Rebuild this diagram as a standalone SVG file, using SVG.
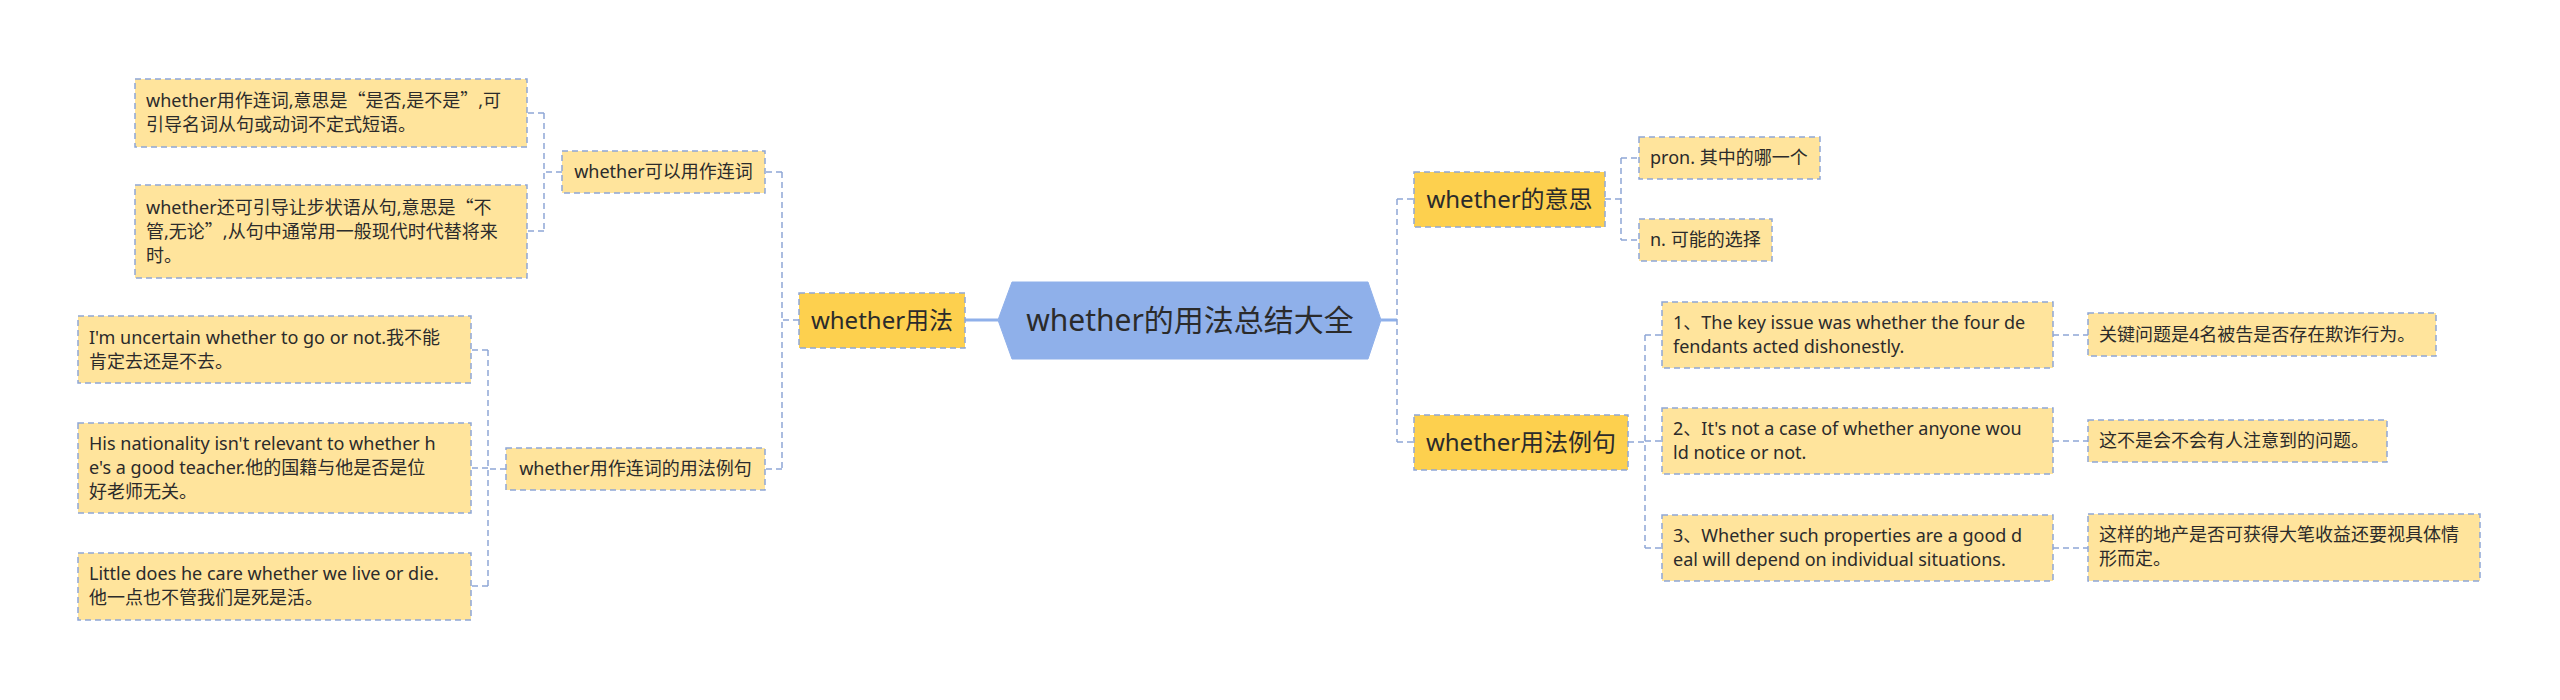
<svg xmlns="http://www.w3.org/2000/svg" width="2560" height="700" viewBox="0 0 2560 700">
<style>
.leaf{fill:#FFE49C;stroke:#8EA6D6;stroke-width:1.5;stroke-dasharray:6 4}
.l1{fill:#FDD04E;stroke:#8EA6D6;stroke-width:1.5;stroke-dasharray:6 4}
.root{fill:#8FB0EA;stroke:#8FB0EA;stroke-width:1}
text{font-family:"Noto Sans","Noto Sans CJK SC",sans-serif;fill:#2b2b2b}
.cjk{font-family:"Noto Sans CJK SC",sans-serif}
.t18{font-size:18px}
.t24{font-size:24px}
.t30{font-size:30px}
.conn path{fill:none;stroke:#8EA6D6;stroke-width:1.5;stroke-dasharray:6 4}
.conn .solid{stroke:#8FB0EA;stroke-width:3;stroke-dasharray:none}
</style>
<rect width="2560" height="700" fill="#ffffff"/>
<g class="conn" id="connectors">
<path class="solid" d="M998 320 H965"/>
<path class="solid" d="M1381 320 H1397"/>
<path d="M799 320 H782 M782 172 V469 M782 172 H765 M782 469 H765"/>
<path d="M562 172 H544 M544 113 V231 M544 113 H527 M544 231 H527"/>
<path d="M506 469 H488 M488 350 V586 M488 350 H471 M488 468 H471 M488 586 H471"/>
<path d="M1397 199 V442 M1397 199 H1414 M1397 442 H1414"/>
<path d="M1605 199 H1621 M1621 158 V240 M1621 158 H1639 M1621 240 H1639"/>
<path d="M1628 442 H1645 M1645 335 V548 M1645 335 H1662 M1645 441 H1662 M1645 548 H1662"/>
<path d="M2053 335 H2088 M2053 441 H2088 M2053 548 H2088"/>
</g>
<g id="root">
<polygon class="root" points="998,320 1012,282 1368,282 1381,320 1368,359 1012,359"/>
<text class="t30" x="1190" y="331" text-anchor="middle">whether的用法总结大全</text>
</g>
<g id="n-yongfa">
<rect class="l1" x="799" y="293" width="166" height="55"/>
<text class="t24" x="882" y="329" text-anchor="middle">whether用法</text>
</g>
<g id="n-lianci">
<rect class="leaf" x="562" y="151" width="203" height="42"/>
<text class="t18" x="663.5" y="178" text-anchor="middle">whether可以用作连词</text>
</g>
<g id="n-liju">
<rect class="leaf" x="506" y="448" width="259" height="42"/>
<text class="t18" x="635.5" y="475" text-anchor="middle">whether用作连词的用法例句</text>
</g>
<g id="n-a">
<rect class="leaf" x="135" y="79" width="392" height="68"/>
<text class="t18" x="146"><tspan x="146" y="107">whether用作连词,意思是<tspan class="cjk">“</tspan>是否,是不是<tspan class="cjk">”</tspan>,可</tspan><tspan x="146" y="131">引导名词从句或动词不定式短语。</tspan></text>
</g>
<g id="n-b">
<rect class="leaf" x="135" y="185" width="392" height="93"/>
<text class="t18" x="146"><tspan x="146" y="214">whether还可引导让步状语从句,意思是<tspan class="cjk">“</tspan>不</tspan><tspan x="146" y="238">管,无论<tspan class="cjk">”</tspan>,从句中通常用一般现代时代替将来</tspan><tspan x="146" y="262">时。</tspan></text>
</g>
<g id="n-c">
<rect class="leaf" x="78" y="316" width="393" height="67"/>
<text class="t18"><tspan x="89" y="344">I'm uncertain whether to go or not.我不能</tspan><tspan x="89" y="368">肯定去还是不去。</tspan></text>
</g>
<g id="n-d">
<rect class="leaf" x="78" y="423" width="393" height="90"/>
<text class="t18"><tspan x="89" y="450">His nationality isn't relevant to whether h</tspan><tspan x="89" y="474">e's a good teacher.他的国籍与他是否是位</tspan><tspan x="89" y="498">好老师无关。</tspan></text>
</g>
<g id="n-e">
<rect class="leaf" x="78" y="553" width="393" height="67"/>
<text class="t18"><tspan x="89" y="580">Little does he care whether we live or die.</tspan><tspan x="89" y="604">他一点也不管我们是死是活。</tspan></text>
</g>
<g id="n-yisi">
<rect class="l1" x="1414" y="172" width="191" height="55"/>
<text class="t24" x="1509.5" y="208" text-anchor="middle">whether的意思</text>
</g>
<g id="n-pron">
<rect class="leaf" x="1639" y="137" width="181" height="42"/>
<text class="t18" x="1650" y="164">pron. 其中的哪一个</text>
</g>
<g id="n-n">
<rect class="leaf" x="1639" y="219" width="133" height="42"/>
<text class="t18" x="1650" y="246">n. 可能的选择</text>
</g>
<g id="n-yongfaliju">
<rect class="l1" x="1414" y="415" width="214" height="55"/>
<text class="t24" x="1521" y="451" text-anchor="middle">whether用法例句</text>
</g>
<g id="n-s1">
<rect class="leaf" x="1662" y="302" width="391" height="66"/>
<text class="t18"><tspan x="1673" y="329">1、The key issue was whether the four de</tspan><tspan x="1673" y="353">fendants acted dishonestly.</tspan></text>
</g>
<g id="n-s2">
<rect class="leaf" x="1662" y="408" width="391" height="66"/>
<text class="t18"><tspan x="1673" y="435">2、It's not a case of whether anyone wou</tspan><tspan x="1673" y="459">ld notice or not.</tspan></text>
</g>
<g id="n-s3">
<rect class="leaf" x="1662" y="515" width="391" height="66"/>
<text class="t18"><tspan x="1673" y="542">3、Whether such properties are a good d</tspan><tspan x="1673" y="566">eal will depend on individual situations.</tspan></text>
</g>
<g id="n-t1">
<rect class="leaf" x="2088" y="313" width="348" height="43"/>
<text class="t18" x="2099" y="341">关键问题是4名被告是否存在欺诈行为。</text>
</g>
<g id="n-t2">
<rect class="leaf" x="2088" y="420" width="299" height="42"/>
<text class="t18" x="2099" y="447">这不是会不会有人注意到的问题。</text>
</g>
<g id="n-t3">
<rect class="leaf" x="2088" y="514" width="392" height="67"/>
<text class="t18"><tspan x="2099" y="541">这样的地产是否可获得大笔收益还要视具体情</tspan><tspan x="2099" y="565">形而定。</tspan></text>
</g>
</svg>
